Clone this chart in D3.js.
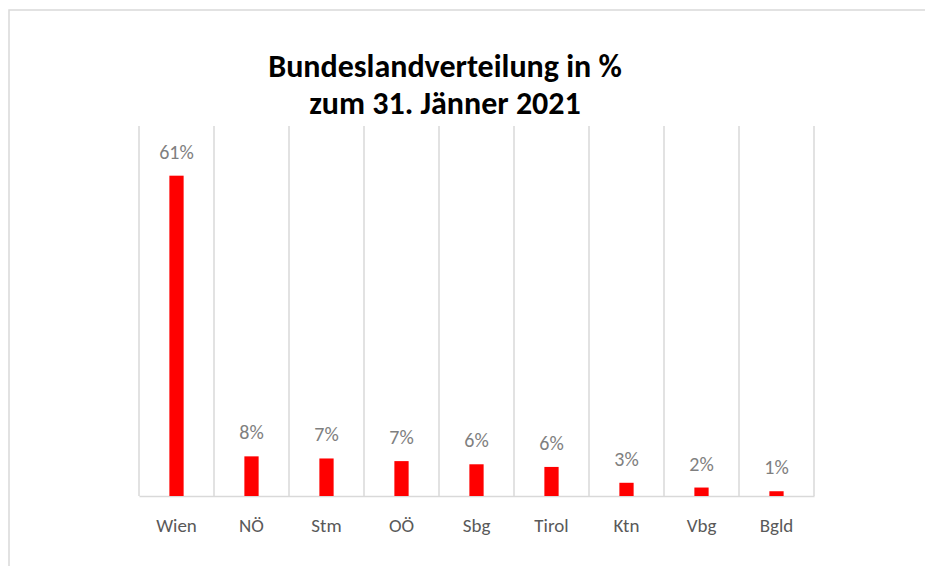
<!DOCTYPE html>
<html lang="de">
<head>
<meta charset="UTF-8">
<title>Bundeslandverteilung in %</title>
<script src="https://d3js.org/d3.v7.min.js"></script>
<style>
    html, body { margin: 0; padding: 0; background: #fff; }
    svg { display: block; }
</style>
</head>
<body>
<div id="chart"></div>
<script>
    // Data
    const categories = ["Wien", "NÖ", "Stm", "OÖ", "Sbg", "Tirol", "Ktn", "Vbg", "Bgld"];
    const shares = [60.6, 7.5, 7.1, 6.6, 6.0, 5.5, 2.5, 1.6, 0.9];
    const titleLines = ["Bundeslandverteilung in %", "zum 31. Jänner 2021"];

    const W = 925, H = 566;
    const plot = { left: 139, right: 814, top: 126, bottom: 496 };
    const labelFont = "Carlito, 'Open Sans', sans-serif";

    const svg = d3.select("#chart").append("svg")
        .attr("width", W)
        .attr("height", H);

    // outer frame
    svg.append("rect")
        .attr("x", 9).attr("y", 10)
        .attr("width", W + 20).attr("height", H + 20)
        .attr("fill", "none")
        .attr("stroke", "#d9d9d9")
        .attr("stroke-width", 1.5);

    // title
    svg.append("text")
        .attr("text-anchor", "middle")
        .style("font-family", labelFont)
        .style("font-weight", "bold")
        .style("font-size", "32px")
        .attr("fill", "#000")
        .selectAll("tspan")
        .data(titleLines)
        .enter().append("tspan")
        .attr("x", 445)
        .attr("y", (d, i) => 77 + i * 37)
        .text(d => d);

    const x = d3.scaleBand()
        .domain(categories)
        .range([plot.left, plot.right])
        .padding(0);

    const y = d3.scaleLinear()
        .domain([0, 70])
        .range([plot.bottom, plot.top]);

    // vertical gridlines at category boundaries
    const bounds = categories.map(c => x(c)).concat([x.range()[1]]);
    svg.append("g")
        .selectAll("line")
        .data(bounds)
        .enter().append("line")
        .attr("x1", d => d).attr("x2", d => d)
        .attr("y1", y(70)).attr("y2", y(0))
        .attr("stroke", "#d9d9d9")
        .attr("stroke-width", 1.5);

    // x axis
    const xAxis = svg.append("g")
        .attr("transform", `translate(0,${y(0)})`)
        .call(d3.axisBottom(x).tickSize(0));
    xAxis.select(".domain").attr("stroke", "#d9d9d9").attr("stroke-width", 1.5);
    xAxis.selectAll("text")
        .attr("y", 36)
        .attr("dy", 0)
        .style("font-family", labelFont)
        .style("font-size", "19px")
        .attr("fill", "#595959");

    // bars
    const barW = x.bandwidth() * 0.19;
    svg.append("g")
        .selectAll("rect")
        .data(shares)
        .enter().append("rect")
        .attr("x", (d, i) => x(categories[i]) + x.bandwidth() / 2 - barW / 2)
        .attr("y", d => y(d))
        .attr("width", barW)
        .attr("height", d => y(0) - y(d))
        .attr("fill", "#ff0000");

    // value labels
    svg.append("g")
        .selectAll("text")
        .data(shares)
        .enter().append("text")
        .attr("x", (d, i) => x(categories[i]) + x.bandwidth() / 2)
        .attr("y", d => y(d) - 17)
        .attr("text-anchor", "middle")
        .style("font-family", labelFont)
        .style("font-size", "20px")
        .attr("fill", "#7f7f7f")
        .text(d => Math.round(d) + "%");
</script>
</body>
</html>
